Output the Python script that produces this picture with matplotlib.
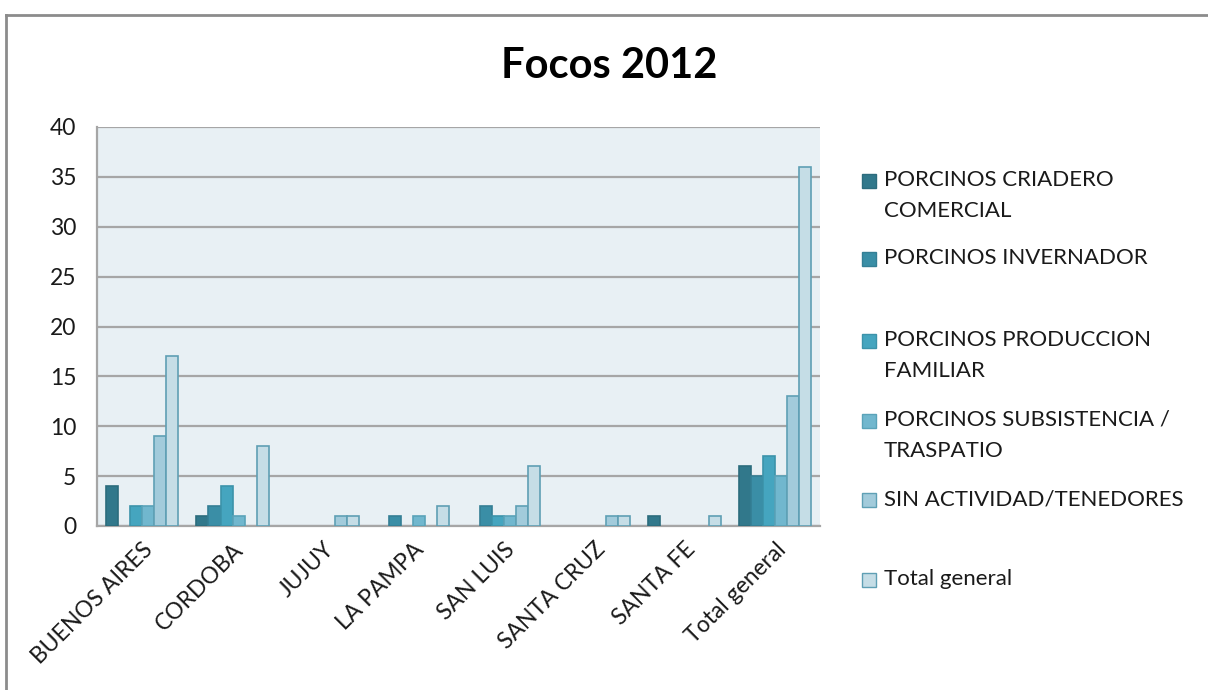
import matplotlib
matplotlib.use("Agg")
import matplotlib.pyplot as plt
import matplotlib.transforms as mtransforms
from matplotlib.patches import Rectangle
from matplotlib.lines import Line2D
import numpy as np

plt.rcParams['font.family'] = ['Lato', 'DejaVu Sans']

categories = ["BUENOS AIRES", "CORDOBA", "JUJUY", "LA PAMPA", "SAN LUIS",
              "SANTA CRUZ", "SANTA FE", "Total general"]
series_names = ["PORCINOS CRIADERO\nCOMERCIAL", "PORCINOS INVERNADOR",
                "PORCINOS PRODUCCION\nFAMILIAR", "PORCINOS SUBSISTENCIA /\nTRASPATIO",
                "SIN ACTIVIDAD/TENEDORES", "Total general"]
criadero     = [4, 1, 0, 0, 0, 0, 1, 6]
invernador   = [0, 2, 0, 1, 2, 0, 0, 5]
produccion   = [2, 4, 0, 0, 1, 0, 0, 7]
subsistencia = [2, 1, 0, 1, 1, 0, 0, 5]
sin_activ    = [9, 0, 1, 0, 2, 1, 0, 13]
total        = [17, 8, 1, 2, 6, 1, 1, 36]
series_values = [criadero, invernador, produccion, subsistencia, sin_activ, total]
yticks = [0, 5, 10, 15, 20, 25, 30, 35, 40]

colors = ["#31788b", "#3a8ea6", "#45a5bf", "#71b7ce", "#a2cbdb", "#c5dde6"]
edges = ["#2c6c7d", "#347f95", "#3c93aa", "#5aa3b9", "#5fa0b5", "#5f9fb4"]

W, H = 1208, 690
fig = plt.figure(figsize=(W / 100, H / 100), dpi=100)
fig.patch.set_facecolor("white")

# outer chart border
fig.add_artist(Line2D([6 / W, 1.0], [1 - 15 / H, 1 - 15 / H], color="#8c8c8c", lw=2,
                      transform=fig.transFigure))
fig.add_artist(Line2D([6 / W, 6 / W], [0, 1 - 15 / H], color="#8c8c8c", lw=2,
                      transform=fig.transFigure))

ax_l, ax_r, ax_t, ax_b = 97, 820, 127, 526
ax = fig.add_axes([ax_l / W, 1 - ax_b / H, (ax_r - ax_l) / W, (ax_b - ax_t) / H])
ax.set_facecolor("#e8f0f4")

n = len(series_values)
x = np.arange(len(categories))
bw = 0.8 / n
for j, vals in enumerate(series_values):
    v = np.array(vals, dtype=float)
    v[v == 0] = np.nan  # Excel draws nothing for zero values
    ax.bar(x + (j - (n - 1) / 2) * bw, v, width=bw, color=colors[j],
           edgecolor=edges[j], linewidth=1.2, zorder=3, label=series_names[j])

ax.set_xlim(-0.5, len(categories) - 0.5)
ax.set_ylim(0, 40)
ax.set_yticks(yticks)
ax.set_yticklabels([str(t) for t in yticks], fontsize=16.5, color="#1a1a1a")
ax.yaxis.grid(True, color="#a6a6a6", linewidth=1.6, zorder=1)
ax.set_axisbelow(True)
ax.tick_params(axis="y", length=0, pad=15)
ax.tick_params(axis="x", length=0)
for s in ["top", "right"]:
    ax.spines[s].set_visible(False)
for s in ["left", "bottom"]:
    ax.spines[s].set_color("#a6a6a6")
    ax.spines[s].set_linewidth(1.6)

ax.set_xticks(x)
ax.set_xticklabels(categories, fontsize=16.5, color="#1a1a1a", rotation=45,
                   ha="right", va="top", rotation_mode="anchor")
offset = mtransforms.ScaledTranslation(0 / 100, -8 / 100, fig.dpi_scale_trans)
for lab in ax.get_xticklabels():
    lab.set_transform(lab.get_transform() + offset)

fig.text(609 / W, 1 - 66 / H, "Focos 2012", fontsize=30, fontweight="bold",
         ha="center", va="center", color="black")

# legend (Excel-like spacing)
leg_y = [181, 259, 341, 421, 500, 580]
for j, yy in enumerate(leg_y):
    fig.patches.append(Rectangle((862 / W, 1 - (yy + 7) / H), 14 / W, 14 / H,
                                 transform=fig.transFigure, facecolor=colors[j],
                                 edgecolor=edges[j], linewidth=1))
    fig.text(884 / W, 1 - (yy - 11) / H, series_names[j], fontsize=16,
             ha="left", va="top", color="#1a1a1a", linespacing=1.7)

fig.savefig("out.png", dpi=100)
